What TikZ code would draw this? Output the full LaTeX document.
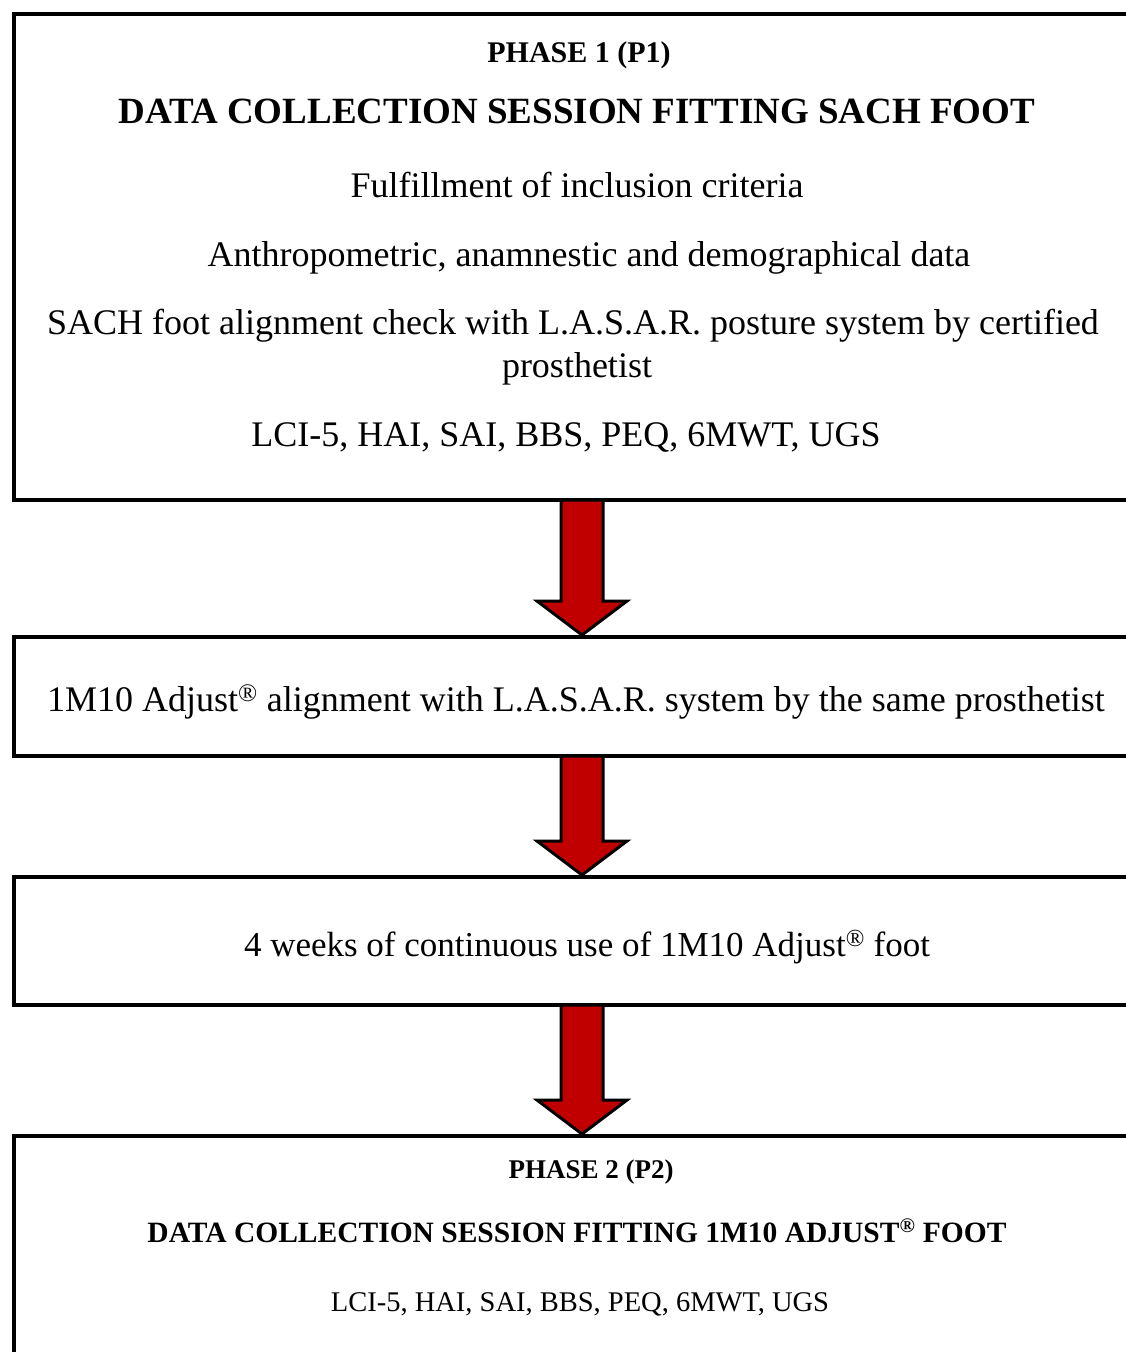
\documentclass[tikz,border=0pt]{standalone}
\usepackage{fontspec}
\setmainfont{Liberation Serif}
\usetikzlibrary{calc}
\definecolor{arrowred}{HTML}{C00000}
\begin{document}
\begin{tikzpicture}[x=1pt,y=-1pt,
  box/.style={draw, line width=4pt, minimum width=1126pt, anchor=north west, outer sep=0pt, inner sep=0pt},
  reg/.style={anchor=base, inner sep=0pt, font=\fontsize{36}{43}\selectfont},
  hd/.style={anchor=base, inner sep=0pt, font=\fontsize{37}{44}\selectfont\bfseries},
  hdb/.style={anchor=base, inner sep=0pt, font=\fontsize{29.5}{35}\selectfont\bfseries},
  regb/.style={anchor=base, inner sep=0pt, font=\fontsize{28.5}{34}\selectfont},
  bigarrow/.style={draw=black, line width=3pt, fill=arrowred, line join=miter}]
\useasboundingbox (0,0) rectangle (1126,1352);
\clip (0,0) rectangle (1126,1352);
% boxes
\node[box, minimum height=486pt] (b1) at (14,14) {};
\node[box, minimum height=119pt] (b2) at (14,637) {};
\node[box, minimum height=128pt] (b3) at (14,877) {};
\node[box, minimum height=300pt] (b4) at (14,1136) {};
% texts box 1
\node[hd, font=\fontsize{30}{36}\selectfont\bfseries] (t11) at (579,62) {PHASE 1 (P1)};
\node[hd] (t12) at (577,123) {DATA COLLECTION SESSION FITTING SACH FOOT};
\node[reg] (t13) at (577,197) {Fulfillment of inclusion criteria};
\node[reg] (t14) at (589,266) {Anthropometric, anamnestic and demographical data};
\node[reg] (t15) at (573,334) {SACH foot alignment check with L.A.S.A.R. posture system by certified};
\node[reg] (t16) at (577,377) {prosthetist};
\node[reg] (t17) at (566,446) {LCI-5, HAI, SAI, BBS, PEQ, 6MWT, UGS};
% box 2, 3
\node[reg] (t21) at (576,711) {1M10 Adjust\textsuperscript{®} alignment with L.A.S.A.R. system by the same prosthetist};
\node[reg, font=\fontsize{35}{42}\selectfont] (t31) at (587,956) {4 weeks of continuous use of 1M10 Adjust\textsuperscript{®} foot};
% box 4
\node[hdb, font=\fontsize{27}{33}\selectfont\bfseries] (t41) at (591,1178) {PHASE 2 (P2)};
\node[hdb] (t42) at (577,1242) {DATA COLLECTION SESSION FITTING 1M10 ADJUST\textsuperscript{®} FOOT};
\node[regb] (t43) at (580,1311) {LCI-5, HAI, SAI, BBS, PEQ, 6MWT, UGS};
% arrows
\foreach \s/\t in {b1/b2, b2/b3, b3/b4}{
  \path[bigarrow] let \p1=($(\s.south)+(5,0)$), \p2=($(\t.north)+(5,-2)$) in
    (\x1-21pt,\y1) -- (\x1+21pt,\y1) -- (\x1+21pt,\y2+34pt) -- (\x1+45pt,\y2+34pt)
    -- (\x1,\y2) -- (\x1-45pt,\y2+34pt) -- (\x1-21pt,\y2+34pt) -- cycle;
}
\end{tikzpicture}
\end{document}
